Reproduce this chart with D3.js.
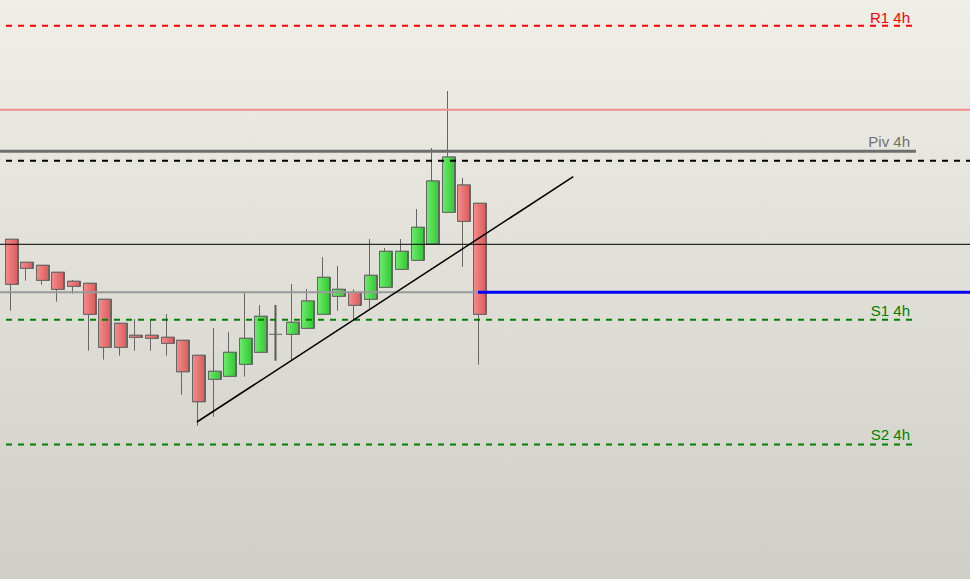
<!DOCTYPE html>
<html>
<head>
<meta charset="utf-8">
<script src="https://cdn.jsdelivr.net/npm/d3@7/dist/d3.min.js"></script>
<style>
html,body{margin:0;padding:0;overflow:hidden;}
svg{display:block;}
</style>
</head>
<body>
<svg id="chart" width="970" height="579"></svg>
<script>
// ---- data (price units) ----
const bars = d3.range(31);
const opens  = [126.07,123.77,123.47,122.77,121.87,121.67,120.07,117.67,116.47,116.47,116.27,115.97,114.47,112.07,112.37,113.57,114.77,116.57,116.57,117.17,118.57,120.37,120.77,120.07,121.27,123.07,123.97,125.60,128.77,131.50,129.67];
const highs  = [126.07,123.77,123.47,122.77,122.00,121.67,120.07,117.67,118.10,118.00,118.60,115.97,114.47,117.20,116.80,120.73,119.50,119.50,121.60,121.10,124.30,123.40,121.07,126.10,125.20,126.10,129.10,135.20,140.90,132.20,129.67];
const lows   = [118.93,121.93,121.53,119.83,120.63,114.93,114.03,114.43,114.93,114.93,114.43,110.53,107.43,108.33,112.37,112.33,114.77,113.93,114.03,117.17,118.57,118.93,118.07,119.13,121.27,123.07,123.97,125.60,128.77,123.33,113.53];
const closes = [121.57,123.17,121.97,121.07,121.37,118.57,115.27,115.27,116.27,116.17,115.67,112.83,109.83,112.87,114.77,116.17,118.37,116.57,117.77,119.90,122.27,121.07,119.47,122.47,124.87,124.87,127.27,131.90,134.30,127.87,118.57];

const levelNames  = ["R1 4h","Piv 4h","S1 4h","S2 4h"];
const levelValues = [147.43,134.87,118.03,105.55];

const upperBand   = 139.03;   // salmon solid line
const dashedBlack = 133.93;
const thinBlack   = 125.57;
const midLine     = 120.77;   // gray line then blue line
const trendStart  = [12, 107.8];
const trendEnd    = [36.1, 132.33];

// ---- scales ----
const W = 970, H = 579;
const y = d3.scaleLinear().domain([92.1, 150]).range([H, 0]);
const x = d3.scaleLinear().domain([0, 30]).range([9.5, 478]);
const bodyW = 12;

const svg = d3.select("#chart");
const defs = svg.append("defs");
const bg = defs.append("linearGradient").attr("id","bg").attr("x1",0).attr("y1",0).attr("x2",0).attr("y2",1);
bg.append("stop").attr("offset","0%").attr("stop-color","#efefe7");
bg.append("stop").attr("offset","100%").attr("stop-color","#d0cfc7");
const gr = defs.append("linearGradient").attr("id","gRed").attr("x1",0).attr("y1",0).attr("x2",1).attr("y2",0);
gr.append("stop").attr("offset","0%").attr("stop-color","#f48c8c");
gr.append("stop").attr("offset","100%").attr("stop-color","#de5c5c");
const gg = defs.append("linearGradient").attr("id","gGreen").attr("x1",0).attr("y1",0).attr("x2",1).attr("y2",0);
gg.append("stop").attr("offset","0%").attr("stop-color","#6cec6c");
gg.append("stop").attr("offset","100%").attr("stop-color","#34c834");

svg.append("rect").attr("width",W).attr("height",H).attr("fill","url(#bg)");

// ---- candles ----
const cg = svg.append("g");
bars.forEach(i => {
  const o = opens[i], c = closes[i], h = highs[i], l = lows[i];
  const cx = Math.round(x(i)) + 0.5;
  const doji = Math.abs(o - c) < 0.05;
  cg.append("line").attr("x1",cx).attr("x2",cx).attr("y1",y(h)).attr("y2",y(l))
    .attr("stroke", doji ? "#5a5a5a" : "#666").attr("stroke-width", doji ? 2 : 1);
  if (doji) {
    cg.append("line").attr("x1",cx-6.5).attr("x2",cx+6.5).attr("y1",y(o)).attr("y2",y(o))
      .attr("stroke","#666").attr("stroke-width",1);
    return;
  }
  const top = Math.min(y(o), y(c)), bot = Math.max(y(o), y(c));
  const bx = Math.round(cx - bodyW/2) + 0.5;
  cg.append("rect").attr("x",bx+1).attr("y",top).attr("width",bodyW).attr("height",bot-top)
    .attr("fill","none").attr("stroke","#666").attr("stroke-width",1);
  cg.append("rect").attr("x",bx).attr("y",top).attr("width",bodyW).attr("height",bot-top)
    .attr("fill", c > o ? "url(#gGreen)" : "url(#gRed)")
    .attr("stroke","#666").attr("stroke-width",1);
});

// ---- lines ----
const lg = svg.append("g");
function hline(v, x1, x2, color, w, dash) {
  const yy = y(v);
  const ln = lg.append("line").attr("x1",x1).attr("x2",x2).attr("y1",yy).attr("y2",yy)
    .attr("stroke",color).attr("stroke-width",w);
  if (dash) ln.attr("stroke-dasharray",dash);
  return ln;
}
hline(upperBand, 0, W, "#f28c8c", 2);
hline(levelValues[0], 6, 912, "#ff0000", 2, "6,6");
hline(levelValues[1], 0, 916, "#6e6e6e", 3);
hline(dashedBlack, 6, W, "#000", 2, "6,6");
hline(thinBlack, 0, W, "#000", 1);
hline(midLine, 0, x(30), "#999", 2);
hline(midLine, x(30), W, "#0000ff", 3);
hline(levelValues[2], 6, 912, "#008000", 2, "6,6");
hline(levelValues[3], 6, 912, "#008000", 2, "6,6");

lg.append("line")
  .attr("x1",x(trendStart[0])).attr("y1",y(trendStart[1]))
  .attr("x2",x(trendEnd[0])).attr("y2",y(trendEnd[1]))
  .attr("stroke","#000").attr("stroke-width",1.5);

// ---- labels ----
const labelColors = ["#ff0000","#707070","#008000","#008000"];
const labelOffset = [3, 4.5, 3.5, 4.5];
levelNames.forEach((n, i) => {
  svg.append("text").attr("x",910).attr("y",y(levelValues[i]) - labelOffset[i])
    .attr("text-anchor","end")
    .attr("font-family","Liberation Sans, Arial, sans-serif")
    .attr("font-size","15px")
    .attr("fill",labelColors[i]).text(n);
});
</script>
</body>
</html>
